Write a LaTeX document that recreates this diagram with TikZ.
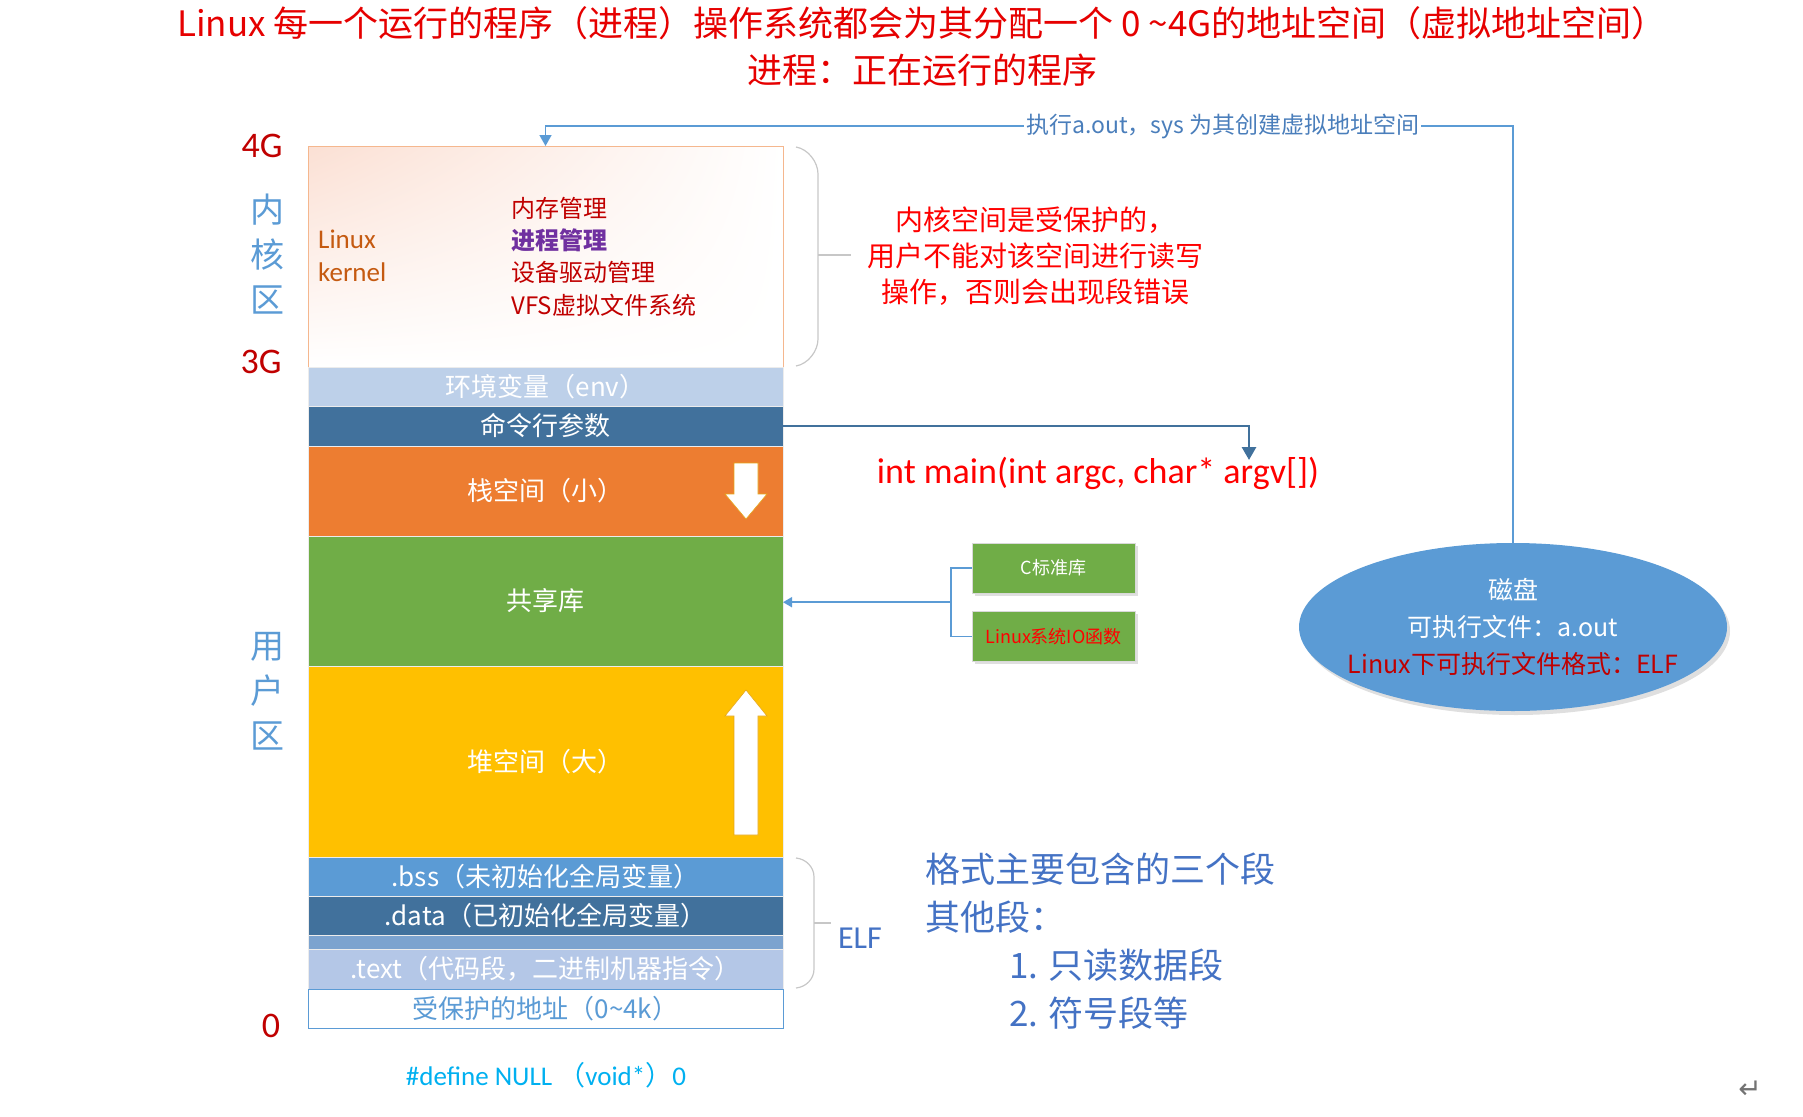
\documentclass[tikz,border=0pt]{standalone}
\usepackage{fontspec}
\setmainfont{Noto Sans CJK SC}
\newfontfamily\latf{Carlito}
\newfontfamily\symf{DejaVu Sans}
\usetikzlibrary{shapes,arrows.meta,positioning,calc,shadows,shadings}

\definecolor{titlered}{RGB}{230,0,0}
\definecolor{darkred}{RGB}{192,0,0}
\definecolor{lightblue}{RGB}{91,155,213}
\definecolor{envblue}{RGB}{189,208,233}
\definecolor{deepblue}{RGB}{65,113,156}
\definecolor{stackorange}{RGB}{237,125,49}
\definecolor{libgreen}{RGB}{112,173,71}
\definecolor{heapgold}{RGB}{255,192,0}
\definecolor{gapblue}{RGB}{124,163,207}
\definecolor{textblue}{RGB}{180,199,231}
\definecolor{kernpink}{RGB}{251,224,212}
\definecolor{kernorange}{RGB}{197,90,17}
\definecolor{kernpurple}{RGB}{112,48,160}
\definecolor{elfblue}{RGB}{68,114,196}
\definecolor{nullcyan}{RGB}{0,176,240}
\definecolor{notered}{RGB}{255,0,0}
\definecolor{labelblue}{RGB}{74,126,187}

\newcommand{\fsz}[2]{\fontsize{#1}{#2}\selectfont}

\begin{document}
\begin{tikzpicture}[
        x=1pt, y=-1pt,
        band/.style={draw=white!85!gray, line width=1pt, minimum width=475pt, inner sep=0pt, outer sep=0pt, text=white, font=\fsz{26}{30}},
        side/.style={font=\fsz{34}{45}, text=lightblue, align=center, inner sep=0pt},
        addr/.style={font=\latf\fsz{36}{40}, text=darkred, inner sep=0pt},
        brace/.style={draw=black!22, line width=1.2pt},
        flow/.style={draw=lightblue, line width=1.6pt, -{Triangle[length=11pt,width=12pt]}},
        argline/.style={draw=deepblue, line width=2.8pt, -{Triangle[length=13pt,width=14pt]}},
        libline/.style={draw=lightblue, line width=1.8pt},
        libbox/.style={draw=black!15, fill=libgreen, minimum width=163pt, minimum height=50pt, inner sep=0pt, font=\fsz{18}{20}, drop shadow={opacity=0.25, shadow xshift=3pt, shadow yshift=-3pt}},
        growth/.style={fill=white, draw=heapgold!60!brown, line width=0.6pt}
    ]
        \useasboundingbox (0,0) rectangle (1803,1116);

        % Title
        \node (title) [text=titlered, font=\fsz{35}{47}, align=center, inner sep=0pt] at (922,46) {Linux 每一个运行的程序（进程）操作系统都会为其分配一个 0 \textasciitilde4G的地址空间（虚拟地址空间）\\进程：正在运行的程序};

        % Address space (top to bottom)
        \node (kern) [band, draw=stackorange!55, minimum height=221pt, upper left=kernpink, upper right=white, lower left=white, lower right=white] at (545.5,256.5) {};
        \node (env) [band, below=0pt of kern, fill=envblue, minimum height=39pt] {环境变量（env）};
        \node (argv) [band, below=0pt of env, fill=deepblue, minimum height=40pt] {命令行参数};
        \node (stack) [band, below=0pt of argv, fill=stackorange, minimum height=90pt] {栈空间（小）};
        \node (shlib) [band, below=0pt of stack, fill=libgreen, minimum height=130pt] {共享库};
        \node (heap) [band, below=0pt of shlib, fill=heapgold, minimum height=191pt] {堆空间（大）};
        \node (bss) [band, below=0pt of heap, fill=lightblue, minimum height=39pt] {.bss（未初始化全局变量）};
        \node (data) [band, below=0pt of bss, fill=deepblue, minimum height=39pt] {.data（已初始化全局变量）};
        \node (gap) [band, below=0pt of data, fill=gapblue, minimum height=14pt] {};
        \node (code) [band, below=0pt of gap, fill=textblue, minimum height=40pt] {.text（代码段，二进制机器指令）};
        \node (prot) [band, below=0pt of code, fill=white, draw=lightblue, text=lightblue, minimum height=39pt] {受保护的地址（0\textasciitilde4k）};

        % Kernel contents
        \node (kname) [anchor=west, align=left, text=kernorange, font=\latf\fsz{27}{33}, inner sep=0pt] at (318,256) {Linux\\kernel};
        \node (kjobs) [anchor=west, align=left, text=darkred, font=\fsz{24}{32.3}, inner sep=0pt] at (511,256.5) {内存管理\\\textcolor{kernpurple}{\bfseries 进程管理}\\设备驱动管理\\VFS虚拟文件系统};

        % Stack grows down, heap grows up
        \filldraw[growth] (734,463) -- (758,463) -- (758,494) -- (767,494) -- (746,519) -- (725,494) -- (734,494) -- cycle;
        \filldraw[growth] (746,690) -- (767,716) -- (758,716) -- (758,835) -- (734,835) -- (734,716) -- (725,716) -- cycle;

        % Address marks and zones
        \node (top4g) [addr] at (262,146) {4G};
        \node (mid3g) [addr] at (261,362) {3G};
        \node (zero) [addr] at (271,1026) {0};
        \node (kzone) [side] at (267,254) {内\\核\\区};
        \node (uzone) [side] at (267,691) {用\\户\\区};

        % Kernel brace and note
        \draw[brace] ($(kern.north east)+(13,1)$) .. controls +(12,2) and +(0,-12) .. ($(kern.north east)+(35,28)$) -- ($(kern.south east)+(35,-28)$) .. controls +(0,12) and +(12,-2) .. ($(kern.south east)+(13,-1)$);
        \draw[brace] ($(kern.east)+(35,-1.5)$) -- ++(33,0);
        \node (knote) [text=notered, font=\fsz{28}{36}, align=center, inner sep=0pt] at (1035,256) {内核空间是受保护的，\\用户不能对该空间进行读写\\操作，否则会出现段错误};

        % main arguments
        \node (mainfn) [text=notered, font=\latf\fsz{36}{38}, inner sep=0pt] at (1098,473) {int main(int argc, char* argv[])};
        \coordinate (argtip) at (1249,460);
        \draw[argline] (argv.east) -| (argtip);

        % Shared libraries
        \node (clib) [libbox, text=white] at (1053.5,568) {C标准库};
        \node (iolib) [libbox, text=notered, below=18pt of clib] {Linux系统IO函数};
        \coordinate (fork) at ($(clib.west)!0.5!(iolib.west)+(-21,0)$);
        \draw[libline] (clib.west) -| (fork) |- (iolib.west);
        \draw[libline, -{Triangle[length=9pt,width=10pt]}] (fork) -- (fork -| shlib.east);

        % Disk and exec arrow
        \node (disk) [ellipse, fill=lightblue, minimum width=428pt, minimum height=168pt, inner sep=0pt, drop shadow={opacity=0.25, shadow xshift=3pt, shadow yshift=-4pt}] at (1513,627) {};
        \node (disktext) [text=white, font=\fsz{25}{37}, align=center, inner sep=0pt] at (disk.center) {磁盘\\可执行文件：a.out\\\textcolor{darkred}{Linux下可执行文件格式：ELF}};
        \coordinate (topline) at (0,126);
        \draw[flow] (disk.north) |- node[pos=0.65, fill=white, text=labelblue, font=\fsz{23}{26}, inner sep=2pt] (runlbl) {执行a.out，sys 为其创建虚拟地址空间} (kern.north |- topline) -- (kern.north);

        % ELF brace and notes
        \draw[brace] ($(bss.north east)+(13,1)$) .. controls +(10,1) and +(0,-10) .. ($(bss.north east)+(31,20)$) -- ($(code.south east)+(31,-20)$) .. controls +(0,10) and +(10,-1) .. ($(code.south east)+(13,-1)$);
        \draw[brace] ($(bss.north east)!0.5!(code.south east)+(31,0)$) -- ++(17,0);
        \node (elf) [text=elfblue, font=\latf\fsz{32}{34}, inner sep=0pt] at (860,938) {ELF};
        \node (elfnote) [anchor=west, text=elfblue, font=\fsz{35}{48}, align=left, inner sep=0pt] at (925,941) {格式主要包含的三个段\\其他段：\\\hspace{84pt}1. 只读数据段\\\hspace{84pt}2. 符号段等};

        \node (null) [text=nullcyan, font=\fsz{27}{30}, inner sep=0pt] at (546,1075) {{\latf \#define NULL }（{\latf void*}）{\latf 0}};
        \node (retmark) [text=black!55, font=\symf\fsz{28}{30}, inner sep=0pt] at (1750,1090) {↵};
    \end{tikzpicture}
\end{document}
